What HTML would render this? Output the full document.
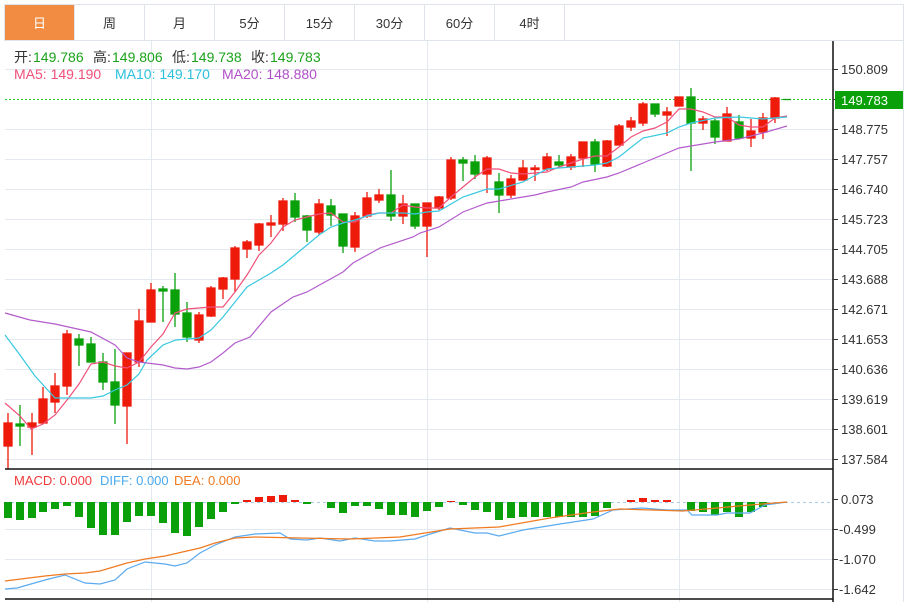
<!DOCTYPE html>
<html><head><meta charset="utf-8"><style>
body{margin:0;background:#fff;width:909px;height:602px;overflow:hidden;font-family:"Liberation Sans","Noto Sans CJK SC",sans-serif}
</style></head><body>
<svg width="909" height="602" xmlns="http://www.w3.org/2000/svg" style="position:absolute;left:0;top:0" font-family="Liberation Sans, Noto Sans CJK SC, sans-serif">
<rect width="909" height="602" fill="#fff"/>
<g stroke="#dfe4ea" fill="none">
<rect x="4.5" y="4.5" width="899" height="36"/>
<line x1="74.5" y1="5" x2="74.5" y2="40"/><line x1="144.5" y1="5" x2="144.5" y2="40"/><line x1="214.5" y1="5" x2="214.5" y2="40"/><line x1="284.5" y1="5" x2="284.5" y2="40"/><line x1="354.5" y1="5" x2="354.5" y2="40"/><line x1="424.5" y1="5" x2="424.5" y2="40"/><line x1="494.5" y1="5" x2="494.5" y2="40"/><line x1="564.5" y1="5" x2="564.5" y2="40"/>
<line x1="903.5" y1="40" x2="903.5" y2="602"/>
</g>
<rect x="5" y="5" width="69" height="35" fill="#f18c42"/>
<g font-size="13" text-anchor="middle" fill="#333">
<text x="39.5" y="28" fill="#fff">日</text><text x="109.5" y="28">周</text><text x="179.5" y="28">月</text><text x="249.5" y="28">5分</text><text x="319.5" y="28">15分</text><text x="389.5" y="28">30分</text><text x="459.5" y="28">60分</text><text x="529.5" y="28">4时</text>
</g>
<g stroke="#e4e9ef" stroke-width="1">
<line x1="5" y1="69.5" x2="833" y2="69.5"/><line x1="5" y1="129.5" x2="833" y2="129.5"/><line x1="5" y1="159.5" x2="833" y2="159.5"/><line x1="5" y1="189.5" x2="833" y2="189.5"/><line x1="5" y1="219.5" x2="833" y2="219.5"/><line x1="5" y1="249.5" x2="833" y2="249.5"/><line x1="5" y1="279.5" x2="833" y2="279.5"/><line x1="5" y1="309.5" x2="833" y2="309.5"/><line x1="5" y1="339.5" x2="833" y2="339.5"/><line x1="5" y1="369.5" x2="833" y2="369.5"/><line x1="5" y1="399.5" x2="833" y2="399.5"/><line x1="5" y1="429.5" x2="833" y2="429.5"/><line x1="5" y1="459.5" x2="833" y2="459.5"/>
<line x1="5" y1="529.5" x2="833" y2="529.5"/><line x1="5" y1="559.5" x2="833" y2="559.5"/><line x1="5" y1="589.5" x2="833" y2="589.5"/>
<line x1="151.5" y1="41" x2="151.5" y2="602"/><line x1="427.5" y1="41" x2="427.5" y2="602"/><line x1="679.5" y1="41" x2="679.5" y2="602"/>
</g>
<g font-size="14">
<text x="14" y="62" fill="#333">开:</text><text x="33" y="62" fill="#1aa31a">149.786</text>
<text x="93" y="62" fill="#333">高:</text><text x="112" y="62" fill="#1aa31a">149.806</text>
<text x="172" y="62" fill="#333">低:</text><text x="191" y="62" fill="#1aa31a">149.738</text>
<text x="251" y="62" fill="#333">收:</text><text x="270" y="62" fill="#1aa31a">149.783</text>
<text x="14" y="79" fill="#f0507a">MA5: 149.190</text>
<text x="115" y="79" fill="#2bc0dc">MA10: 149.170</text>
<text x="222" y="79" fill="#b050c8">MA20: 148.880</text>
</g>
<g font-size="13">
<text x="14" y="485" fill="#f03a3a">MACD: 0.000</text>
<text x="100" y="485" fill="#4aa8ee">DIFF: 0.000</text>
<text x="174" y="485" fill="#f07a20">DEA: 0.000</text>
</g>
<line x1="5" y1="99.5" x2="833" y2="99.5" stroke="#22cc22" stroke-dasharray="2,2"/>
<g stroke="#ee1a0a" fill="#ee1a0a" stroke-width="1.3">
<line x1="8" y1="413" x2="8" y2="469"/><rect x="4" y="423" width="8" height="23"/>
<line x1="32" y1="413" x2="32" y2="455"/><rect x="28" y="423" width="8" height="4"/>
<line x1="43" y1="387" x2="43" y2="423"/><rect x="39" y="399" width="8" height="24"/>
<line x1="55" y1="373" x2="55" y2="413"/><rect x="51" y="386" width="8" height="16"/>
<line x1="67" y1="330" x2="67" y2="395"/><rect x="63" y="334" width="8" height="52"/>
<line x1="127" y1="353" x2="127" y2="444"/><rect x="123" y="353" width="8" height="53"/>
<line x1="139" y1="309" x2="139" y2="367"/><rect x="135" y="321" width="8" height="41"/>
<line x1="151" y1="283" x2="151" y2="322"/><rect x="147" y="290" width="8" height="32"/>
<line x1="199" y1="312" x2="199" y2="343"/><rect x="195" y="315" width="8" height="25"/>
<line x1="211" y1="286" x2="211" y2="317"/><rect x="207" y="288" width="8" height="28"/>
<line x1="223" y1="277" x2="223" y2="299"/><rect x="219" y="278" width="8" height="11"/>
<line x1="235" y1="246" x2="235" y2="292"/><rect x="231" y="248" width="8" height="31"/>
<line x1="247" y1="240" x2="247" y2="258"/><rect x="243" y="242" width="8" height="7"/>
<line x1="259" y1="223" x2="259" y2="251"/><rect x="255" y="224" width="8" height="21"/>
<line x1="271" y1="215" x2="271" y2="237"/><rect x="267" y="223" width="8" height="2"/>
<line x1="283" y1="198" x2="283" y2="231"/><rect x="279" y="201" width="8" height="23"/>
<line x1="319" y1="199" x2="319" y2="235"/><rect x="315" y="204" width="8" height="28"/>
<line x1="355" y1="212" x2="355" y2="252"/><rect x="351" y="216" width="8" height="31"/>
<line x1="367" y1="192" x2="367" y2="218"/><rect x="363" y="198" width="8" height="18"/>
<line x1="379" y1="189" x2="379" y2="203"/><rect x="375" y="195" width="8" height="5"/>
<line x1="403" y1="195" x2="403" y2="224"/><rect x="399" y="204" width="8" height="12"/>
<line x1="427" y1="203" x2="427" y2="257"/><rect x="423" y="203" width="8" height="23"/>
<line x1="439" y1="196" x2="439" y2="210"/><rect x="435" y="197" width="8" height="11"/>
<line x1="451" y1="157" x2="451" y2="200"/><rect x="447" y="160" width="8" height="38"/>
<line x1="487" y1="156" x2="487" y2="193"/><rect x="483" y="158" width="8" height="16"/>
<line x1="511" y1="175" x2="511" y2="198"/><rect x="507" y="179" width="8" height="16"/>
<line x1="523" y1="160" x2="523" y2="180"/><rect x="519" y="168" width="8" height="12"/>
<line x1="535" y1="165" x2="535" y2="181"/><rect x="531" y="168" width="8" height="1.5"/>
<line x1="547" y1="153" x2="547" y2="171"/><rect x="543" y="157" width="8" height="12"/>
<line x1="571" y1="154" x2="571" y2="170"/><rect x="567" y="157" width="8" height="10"/>
<line x1="583" y1="142" x2="583" y2="167"/><rect x="579" y="142" width="8" height="16"/>
<line x1="607" y1="140" x2="607" y2="167"/><rect x="603" y="141" width="8" height="25"/>
<line x1="619" y1="124" x2="619" y2="145"/><rect x="615" y="126" width="8" height="19"/>
<line x1="631" y1="117" x2="631" y2="131"/><rect x="627" y="121" width="8" height="6"/>
<line x1="643" y1="102" x2="643" y2="126"/><rect x="639" y="104" width="8" height="19"/>
<line x1="667" y1="107" x2="667" y2="136"/><rect x="663" y="112" width="8" height="3"/>
<line x1="679" y1="97" x2="679" y2="106"/><rect x="675" y="97" width="8" height="9"/>
<line x1="703" y1="116" x2="703" y2="130"/><rect x="699" y="119" width="8" height="4"/>
<line x1="727" y1="107" x2="727" y2="141"/><rect x="723" y="114" width="8" height="27"/>
<line x1="751" y1="119" x2="751" y2="147"/><rect x="747" y="131" width="8" height="7"/>
<line x1="763" y1="113" x2="763" y2="139"/><rect x="759" y="118" width="8" height="14"/>
<line x1="775" y1="97" x2="775" y2="123"/><rect x="771" y="98" width="8" height="20"/>
</g>
<g stroke="#0aa00a" fill="#0aa00a" stroke-width="1.3">
<line x1="20" y1="405" x2="20" y2="446"/><rect x="16" y="424" width="8" height="2"/>
<line x1="79" y1="334" x2="79" y2="366"/><rect x="75" y="339" width="8" height="6"/>
<line x1="91" y1="337" x2="91" y2="362"/><rect x="87" y="344" width="8" height="18"/>
<line x1="103" y1="353" x2="103" y2="390"/><rect x="99" y="362" width="8" height="20"/>
<line x1="115" y1="349" x2="115" y2="424"/><rect x="111" y="382" width="8" height="23"/>
<line x1="163" y1="286" x2="163" y2="322"/><rect x="159" y="289" width="8" height="2"/>
<line x1="175" y1="273" x2="175" y2="327"/><rect x="171" y="290" width="8" height="24"/>
<line x1="187" y1="302" x2="187" y2="342"/><rect x="183" y="313" width="8" height="24"/>
<line x1="295" y1="193" x2="295" y2="222"/><rect x="291" y="201" width="8" height="16"/>
<line x1="307" y1="215" x2="307" y2="242"/><rect x="303" y="216" width="8" height="14"/>
<line x1="331" y1="199" x2="331" y2="226"/><rect x="327" y="206" width="8" height="9"/>
<line x1="343" y1="214" x2="343" y2="253"/><rect x="339" y="214" width="8" height="32"/>
<line x1="391" y1="170" x2="391" y2="221"/><rect x="387" y="195" width="8" height="21"/>
<line x1="415" y1="204" x2="415" y2="229"/><rect x="411" y="204" width="8" height="22"/>
<line x1="463" y1="157" x2="463" y2="181"/><rect x="459" y="160" width="8" height="3"/>
<line x1="475" y1="155" x2="475" y2="179"/><rect x="471" y="162" width="8" height="12"/>
<line x1="499" y1="173" x2="499" y2="213"/><rect x="495" y="182" width="8" height="13"/>
<line x1="559" y1="155" x2="559" y2="167"/><rect x="555" y="162" width="8" height="3"/>
<line x1="595" y1="139" x2="595" y2="172"/><rect x="591" y="142" width="8" height="22"/>
<line x1="655" y1="104" x2="655" y2="117"/><rect x="651" y="104" width="8" height="10"/>
<line x1="691" y1="88" x2="691" y2="171"/><rect x="687" y="97" width="8" height="26"/>
<line x1="715" y1="119" x2="715" y2="144"/><rect x="711" y="121" width="8" height="16"/>
<line x1="739" y1="115" x2="739" y2="139"/><rect x="735" y="122" width="8" height="16"/>
<line x1="783" y1="99.5" x2="791" y2="99.5"/>
</g>
<polyline fill="none" stroke="#f0507a" stroke-width="1.2" points="5,403 20,416 31,429 43,424 55,415 67,400 79,384 91,364 103,362 115,366 127,368 139,362 151,347 163,334 175,313 187,309 199,308 211,307 223,307 235,292 247,275 259,255 271,243 283,227 295,220 307,217 319,214 331,213 343,222 355,222 367,215 379,213 391,213 403,205 415,207 427,208 439,208 451,197 463,187 475,177 487,169 499,169 511,173 523,174 535,173 547,172 559,167 571,163 583,159 595,156 607,156 619,147 631,137 643,131 655,128 667,122 679,109 691,109 703,112 715,117 727,117 739,125 751,127 763,127 775,118 787,116"/>
<polyline fill="none" stroke="#38c8e0" stroke-width="1.2" points="5,335 20,355 35,376 55,398 67,398 91,398 103,396 115,390 127,385 139,374 147,360 163,345 176,340 199,338 211,330 223,317 235,302 247,287 259,280 271,273 283,265 295,255 307,245 319,235 331,227 343,223 355,220 367,216 379,213 403,213 415,214 427,212 439,211 463,197 487,189 499,189 523,182 547,169 571,167 595,165 607,163 619,157 643,138 667,133 679,127 691,123 715,118 739,117 763,119 787,117"/>
<polyline fill="none" stroke="#b45ccc" stroke-width="1.2" points="5,313 30,320 55,324 91,332 115,345 127,358 139,362 163,365 175,368 187,369 199,367 211,362 223,353 235,343 250,337 271,312 293,297 307,292 343,272 353,263 380,248 413,237 420,233 439,227 463,212 487,203 511,199 535,195 547,192 571,187 583,182 607,177 619,173 643,163 667,153 679,148 691,146 715,142 739,139 763,133 787,126"/>
<line x1="5" y1="502.5" x2="833" y2="502.5" stroke="#a8cce8" stroke-dasharray="3,3"/>
<g fill="#0aa00a">
<rect x="4" y="502" width="8" height="16"/><rect x="16" y="502" width="8" height="18"/><rect x="28" y="502" width="8" height="16"/><rect x="39" y="502" width="8" height="10"/><rect x="51" y="502" width="8" height="7"/><rect x="63" y="502" width="8" height="4"/><rect x="75" y="502" width="8" height="15"/><rect x="87" y="502" width="8" height="26"/><rect x="99" y="502" width="8" height="33"/><rect x="111" y="502" width="8" height="33"/><rect x="123" y="502" width="8" height="20"/><rect x="135" y="502" width="8" height="14"/><rect x="147" y="502" width="8" height="14"/><rect x="159" y="502" width="8" height="21"/><rect x="171" y="502" width="8" height="31"/><rect x="183" y="502" width="8" height="34"/><rect x="195" y="502" width="8" height="25"/><rect x="207" y="502" width="8" height="17"/><rect x="219" y="502" width="8" height="10"/><rect x="231" y="502" width="8" height="2"/>
<rect x="303" y="502" width="8" height="2"/><rect x="327" y="502" width="8" height="6"/><rect x="339" y="502" width="8" height="11"/><rect x="351" y="502" width="8" height="4"/><rect x="363" y="502" width="8" height="4"/><rect x="375" y="502" width="8" height="7"/><rect x="387" y="502" width="8" height="13"/><rect x="399" y="502" width="8" height="13"/><rect x="411" y="502" width="8" height="15"/><rect x="423" y="502" width="8" height="9"/><rect x="435" y="502" width="8" height="5"/>
<rect x="459" y="502" width="8" height="3"/><rect x="471" y="502" width="8" height="8"/><rect x="483" y="502" width="8" height="10"/><rect x="495" y="502" width="8" height="18"/><rect x="507" y="502" width="8" height="16"/><rect x="519" y="502" width="8" height="15"/><rect x="531" y="502" width="8" height="15"/><rect x="543" y="502" width="8" height="15"/><rect x="555" y="502" width="8" height="15"/><rect x="567" y="502" width="8" height="15"/><rect x="579" y="502" width="8" height="15"/><rect x="591" y="502" width="8" height="14"/><rect x="603" y="502" width="8" height="6"/>
<rect x="687" y="502" width="8" height="9"/><rect x="699" y="502" width="8" height="10"/><rect x="711" y="502" width="8" height="13"/><rect x="723" y="502" width="8" height="10"/><rect x="735" y="502" width="8" height="15"/><rect x="747" y="502" width="8" height="10"/><rect x="759" y="502" width="8" height="5"/>
</g>
<g fill="#ee1a0a">
<rect x="243" y="500" width="8" height="2"/><rect x="255" y="497" width="8" height="5"/><rect x="267" y="496" width="8" height="6"/><rect x="279" y="495" width="8" height="7"/><rect x="291" y="500" width="8" height="2"/><rect x="447" y="501" width="8" height="1"/>
<rect x="627" y="500" width="8" height="2"/><rect x="639" y="498" width="8" height="4"/><rect x="651" y="500" width="8" height="2"/><rect x="663" y="500" width="8" height="2"/>
</g>
<polyline fill="none" stroke="#5aaaf0" stroke-width="1.2" points="5,589 17,588 45,580 65,575 85,583 100,584 115,580 127,569 145,562 165,564 175,566 187,563 200,553 215,545 235,537 255,534 280,533 290,539 307,540 320,538 340,541 355,538 375,541 390,541 415,539 427,535 450,528 475,533 487,533 499,536 523,530 560,524 593,519 613,510 642,508 667,510 687,510 692,515 717,515 727,513 750,513 765,505 787,502"/>
<polyline fill="none" stroke="#f07a20" stroke-width="1.2" points="5,581 45,576 65,574 85,573 100,571 127,563 145,559 165,556 200,548 215,543 235,538 255,537 300,538 350,539 400,537 450,529 499,527 550,518 593,512 620,509 683,511 717,508 750,505 787,502"/>
<g stroke="#111" stroke-width="1.5">
<line x1="5" y1="469" x2="833" y2="469"/><line x1="5" y1="599" x2="833" y2="599"/><line x1="833" y1="41" x2="833" y2="602"/>
</g>
<g stroke="#333"><line x1="833" y1="69.5" x2="838" y2="69.5"/><line x1="833" y1="99.5" x2="838" y2="99.5"/><line x1="833" y1="129.5" x2="838" y2="129.5"/><line x1="833" y1="159.5" x2="838" y2="159.5"/><line x1="833" y1="189.5" x2="838" y2="189.5"/><line x1="833" y1="219.5" x2="838" y2="219.5"/><line x1="833" y1="249.5" x2="838" y2="249.5"/><line x1="833" y1="279.5" x2="838" y2="279.5"/><line x1="833" y1="309.5" x2="838" y2="309.5"/><line x1="833" y1="339.5" x2="838" y2="339.5"/><line x1="833" y1="369.5" x2="838" y2="369.5"/><line x1="833" y1="399.5" x2="838" y2="399.5"/><line x1="833" y1="429.5" x2="838" y2="429.5"/><line x1="833" y1="459.5" x2="838" y2="459.5"/><line x1="833" y1="499.5" x2="838" y2="499.5"/><line x1="833" y1="529.5" x2="838" y2="529.5"/><line x1="833" y1="559.5" x2="838" y2="559.5"/><line x1="833" y1="589.5" x2="838" y2="589.5"/></g>
<rect x="835" y="91" width="68" height="18" fill="#0aa00a"/>
<g font-size="13" fill="#333">
<text x="841" y="74">150.809</text><text x="841" y="105" fill="#fff">149.783</text><text x="841" y="134">148.775</text><text x="841" y="164">147.757</text><text x="841" y="194">146.740</text><text x="841" y="224">145.723</text><text x="841" y="254">144.705</text><text x="841" y="284">143.688</text><text x="841" y="314">142.671</text><text x="841" y="344">141.653</text><text x="841" y="374">140.636</text><text x="841" y="404">139.619</text><text x="841" y="434">138.601</text><text x="841" y="464">137.584</text>
<text x="841" y="504">0.073</text><text x="839" y="534">-0.499</text><text x="839" y="564">-1.070</text><text x="839" y="594">-1.642</text>
</g>
</svg>
</body></html>
